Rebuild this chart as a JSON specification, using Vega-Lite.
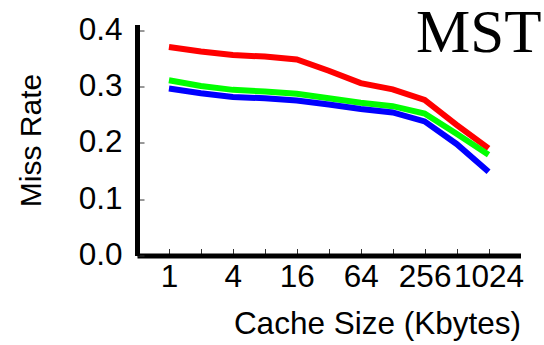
{
  "$schema": "https://vega.github.io/schema/vega-lite/v6.json",
  "autosize": {"type": "none"},
  "padding": {"left": 137, "top": 24.5, "right": 23.5, "bottom": 89.5},
  "width": 383.5,
  "height": 231,
  "background": "white",
  "config": {
    "view": {"stroke": null},
    "axis": {
      "grid": false,
      "domainColor": "black",
      "domainWidth": 5,
      "tickColor": "#333333",
      "tickWidth": 1,
      "tickSize": -7,
      "labelFont": "Liberation Sans",
      "labelFontSize": 31.5,
      "labelColor": "black",
      "titleFont": "Liberation Sans",
      "titleFontSize": 31.5,
      "titleFontWeight": "normal",
      "titleColor": "black"
    }
  },
  "layer": [
    {
      "data": {
        "values": [
          {"size": 1, "series": "A", "rate": 0.370},
          {"size": 2, "series": "A", "rate": 0.362},
          {"size": 4, "series": "A", "rate": 0.356},
          {"size": 8, "series": "A", "rate": 0.353},
          {"size": 16, "series": "A", "rate": 0.348},
          {"size": 32, "series": "A", "rate": 0.328},
          {"size": 64, "series": "A", "rate": 0.306},
          {"size": 128, "series": "A", "rate": 0.295},
          {"size": 256, "series": "A", "rate": 0.276},
          {"size": 512, "series": "A", "rate": 0.232},
          {"size": 1024, "series": "A", "rate": 0.190},
          {"size": 1, "series": "B", "rate": 0.311},
          {"size": 2, "series": "B", "rate": 0.301},
          {"size": 4, "series": "B", "rate": 0.294},
          {"size": 8, "series": "B", "rate": 0.291},
          {"size": 16, "series": "B", "rate": 0.287},
          {"size": 32, "series": "B", "rate": 0.279},
          {"size": 64, "series": "B", "rate": 0.271},
          {"size": 128, "series": "B", "rate": 0.265},
          {"size": 256, "series": "B", "rate": 0.252},
          {"size": 512, "series": "B", "rate": 0.216},
          {"size": 1024, "series": "B", "rate": 0.179},
          {"size": 1, "series": "C", "rate": 0.2965},
          {"size": 2, "series": "C", "rate": 0.288},
          {"size": 4, "series": "C", "rate": 0.2815},
          {"size": 8, "series": "C", "rate": 0.279},
          {"size": 16, "series": "C", "rate": 0.275},
          {"size": 32, "series": "C", "rate": 0.268},
          {"size": 64, "series": "C", "rate": 0.260},
          {"size": 128, "series": "C", "rate": 0.254},
          {"size": 256, "series": "C", "rate": 0.238},
          {"size": 512, "series": "C", "rate": 0.198},
          {"size": 1024, "series": "C", "rate": 0.1485}
        ]
      },
      "mark": {"type": "line", "strokeWidth": 6, "strokeCap": "butt", "strokeJoin": "miter"},
      "encoding": {
        "x": {
          "field": "size",
          "type": "quantitative",
          "scale": {"type": "log", "base": 2, "domain": [0.5, 2048], "nice": false},
          "axis": {
            "title": "Cache Size (Kbytes)",
            "values": [1, 2, 4, 8, 16, 32, 64, 128, 256, 512, 1024],
            "labelExpr": "indexof([1, 4, 16, 64, 256, 1024], datum.value) >= 0 ? format(datum.value, 'd') : ''",
            "labelOverlap": false,
            "labelFlush": false,
            "labelBound": false,
            "labelBaseline": "alphabetic",
            "labelPadding": 38,
            "titleAnchor": "end",
            "titleAlign": "right",
            "titleBaseline": "alphabetic",
            "titleX": 383.5,
            "titleY": 77.5
          }
        },
        "y": {
          "field": "rate",
          "type": "quantitative",
          "scale": {"domain": [0, 0.41], "nice": false},
          "axis": {
            "title": "Miss Rate",
            "values": [0, 0.1, 0.2, 0.3, 0.4],
            "format": ".1f",
            "labelPadding": 22,
            "labelOverlap": false,
            "labelFlush": false,
            "titleFontSize": 30,
            "titleAngle": -90,
            "titleAlign": "center",
            "titleBaseline": "alphabetic",
            "titleX": -97,
            "titleY": 115.5
          }
        },
        "color": {
          "field": "series",
          "type": "nominal",
          "scale": {"domain": ["A", "B", "C"], "range": ["#ff0000", "#00ff00", "#0000ff"]},
          "legend": null
        }
      }
    },
    {
      "data": {"values": [{"label": "MST"}]},
      "mark": {
        "type": "text",
        "font": "Liberation Serif",
        "fontSize": 61,
        "color": "black",
        "align": "right",
        "baseline": "alphabetic",
        "dx": 21,
        "dy": 27
      },
      "encoding": {
        "x": {"datum": 2048, "type": "quantitative"},
        "y": {"datum": 0.41, "type": "quantitative"},
        "text": {"field": "label", "type": "nominal"}
      }
    }
  ]
}
